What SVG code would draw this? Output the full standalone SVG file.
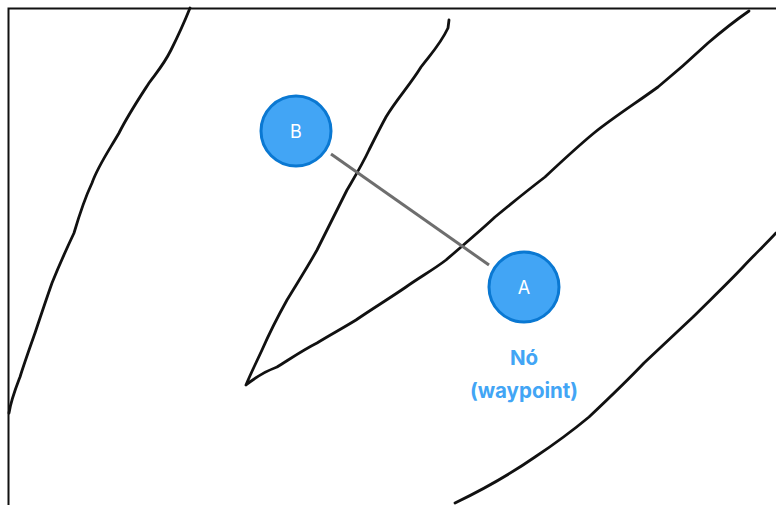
<svg xmlns="http://www.w3.org/2000/svg" width="776" height="505" viewBox="0 0 776 505">
<style>
.sk{fill:none;stroke:#111;stroke-width:2.8;stroke-linecap:round;stroke-linejoin:round}
.node{fill:#42A5F5;stroke:#0A78D2;stroke-width:3}
.nt{font-family:"Inter","Liberation Sans",sans-serif;font-size:18px;fill:#fff;text-anchor:middle;dominant-baseline:central}
.lbl{font-family:"Inter","Liberation Sans",sans-serif;font-size:20.5px;font-weight:bold;fill:#42A5F5;text-anchor:middle}
.edge{stroke:#6e6e6e;stroke-width:3;fill:none}
</style>
<rect width="776" height="505" fill="#fff"/>
<path d="M8.5 505 V8.5 H776" fill="none" stroke="#111" stroke-width="2"/>
<g id="sketch">
<path class="sk" d="M190 8 C182 28 176 40 171 50 C163 66 156 73 149 83 C138 100 128 115 119 133 C108 152 98 166 92 183 C84 200 79 216 74 233 C66 250 58 268 52 283 C46 300 40 318 35 333 C29 350 24 364 20 377 C15 390 11 400 9 413"/>
<path class="sk" d="M449 20 L448 28 C440 45 430 55 421 67 C410 85 396 100 386 117 C380 128 374 140 369 150 C362 165 354 178 347 190 C337 210 327 230 317 250 C307 268 296 285 287 300 C277 318 269 334 262 350 C256 363 250 375 246 385 C256 377 266 371 277 367 C290 359 303 350 317 343 C330 335 343 328 356 320 C372 309 390 298 406 287 C420 277 433 270 446 260 C462 246 479 232 495 217 C512 203 528 190 545 177 C561 162 577 147 594 133 C614 117 636 103 658 87 C675 73 692 58 708 43 C722 31 736 20 749 11"/>
<path class="sk" d="M776 233 C765 245 753 256 743 267 C727 284 710 300 693 317 C677 332 660 348 644 363 C626 382 607 400 589 417 C571 432 553 445 535 457 C509 475 482 490 455 503"/>
</g>
<g id="connectors">
<line class="edge" x1="331" y1="154" x2="489" y2="265"/>
</g>
<g id="node-B">
<circle class="node" cx="296" cy="131" r="35"/>
<text class="nt" x="296" y="131">B</text>
</g>
<g id="node-A">
<circle class="node" cx="524" cy="287" r="35"/>
<text class="nt" x="524" y="287">A</text>
</g>
<g id="label-A">
<text class="lbl" x="524" y="365">Nó</text>
<text class="lbl" x="524" y="398">(waypoint)</text>
</g>
</svg>
